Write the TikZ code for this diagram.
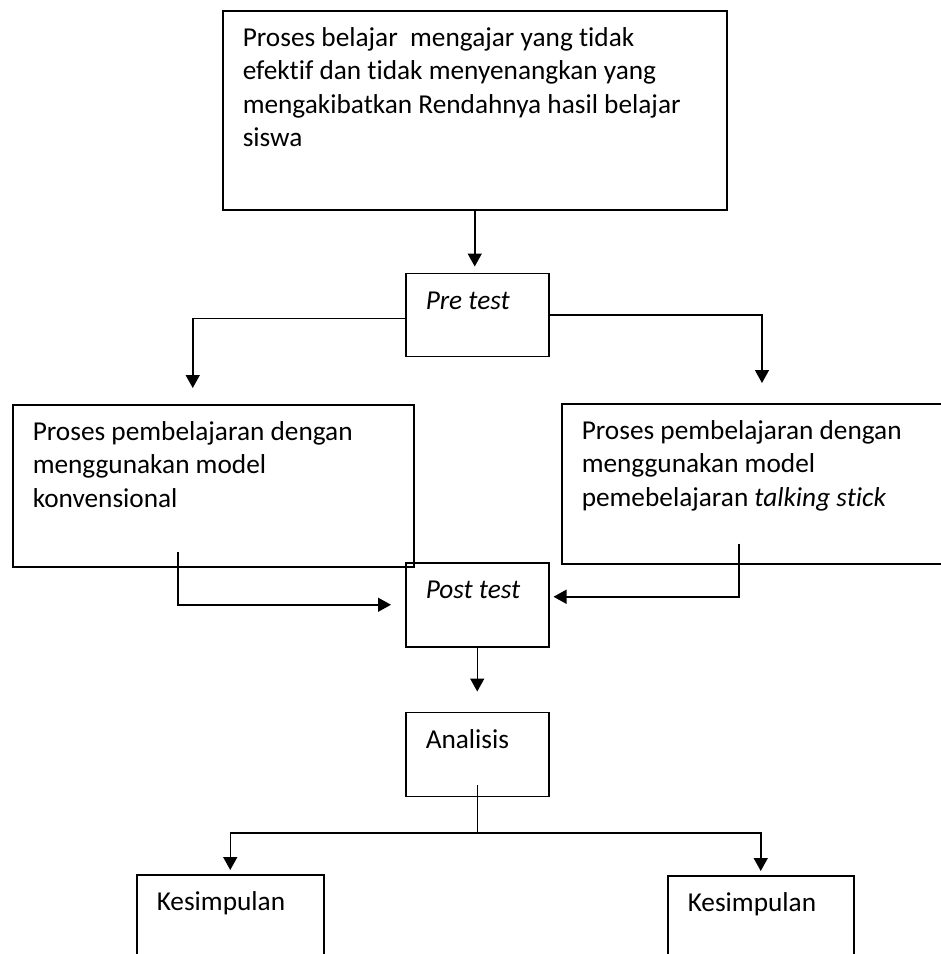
\documentclass[tikz,border=0pt]{standalone}
\usepackage{fontspec}
\setmainfont{Carlito}[Ligatures=NoCommon]
\usetikzlibrary{positioning,arrows.meta}
\newcommand{\isi}[3]{\parbox[t][#2][t]{#1}{\raggedright\rule{0pt}{18pt}#3}}

\begin{document}
\begin{tikzpicture}[x=0.5pt,y=-0.5pt,
  kotak/.style={draw,rectangle,line width=0.75pt,inner xsep=10pt,inner ysep=0pt,font=\fontsize{13.65pt}{16.6pt}\selectfont},
  panah/.style={line width=0.75pt,-{Triangle[length=6.5pt,width=7pt]}}]
\useasboundingbox (0,0) rectangle (941,954);
\clip (0,0) rectangle (941,954);

\node[kotak,anchor=north west] (masalah) at (222,10) {\isi{232pt}{99.5pt}{Proses belajar\ \ mengajar yang tidak\\efektif dan tidak menyenangkan yang\\mengakibatkan Rendahnya hasil belajar\\siswa}};
\node[kotak] (pretest) [below=31pt of masalah,xshift=1.25pt] {\isi{51.5pt}{41.5pt}{\textit{Pre test}}};
\node[kotak,anchor=north west] (konvensional) at (12,404) {\isi{180.5pt}{81pt}{Proses pembelajaran dengan\\menggunakan model\\konvensional}};
\node[kotak,anchor=north west] (talking) at (561,403) {\isi{220pt}{80pt}{Proses pembelajaran dengan\\menggunakan model\\pemebelajaran \textit{talking stick}}};
\node[kotak] (posttest) [below=102.5pt of pretest] {\isi{51.5pt}{42pt}{\textit{Post test}}};
\node[kotak] (analisis) [below=32pt of posttest] {\isi{51.5pt}{42pt}{Analisis}};
\node[kotak,anchor=north west] (kesimpulan1) at (136,874) {\isi{73.5pt}{58pt}{Kesimpulan}};
\node[kotak,anchor=north west] (kesimpulan2) at (667,875) {\isi{73pt}{58pt}{Kesimpulan}};

\draw[panah,shorten >=3pt] (masalah.south) -- (masalah.south |- pretest.north);
\draw[panah,shorten >=8pt] ([yshift=-1.75pt]pretest.west) -| ([xshift=-10.25pt]konvensional.north);
\draw[panah,shorten >=10pt] (pretest.east) -| ([xshift=100.5pt]talking.north west);
\draw[panah,shorten >=7pt] ([xshift=-17.75pt,yshift=8pt]konvensional.south) |- (posttest.west);
\draw[panah,shorten >=2pt] ([xshift=89pt,yshift=10.5pt]talking.south west) |- ([yshift=4pt]posttest.east);
\draw[panah,shorten >=10pt] (posttest.south) -- (analisis.north);
\coordinate (cabang) at ([yshift=-18pt]analisis.south);
\draw[line width=0.75pt] ([yshift=6pt]analisis.south) -- (cabang);
\draw[panah,shorten >=2pt] (cabang) -| (kesimpulan1.north);
\draw[panah,shorten >=2pt] (cabang) -| (kesimpulan2.north);

\end{tikzpicture}
\end{document}
